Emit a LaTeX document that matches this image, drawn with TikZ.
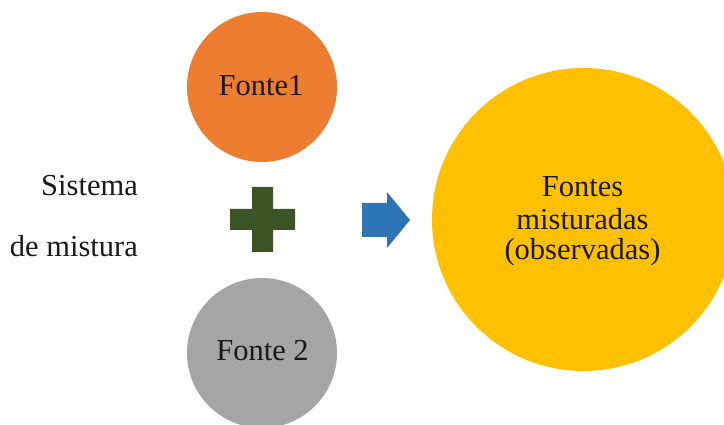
\documentclass[tikz,border=0pt]{standalone}
\usepackage{fontspec}
\setmainfont{Liberation Serif}
\definecolor{orangeC}{HTML}{ED7D31}
\definecolor{grayC}{HTML}{A5A5A5}
\definecolor{yellowC}{HTML}{FFC000}
\definecolor{blueC}{HTML}{2E75B6}
\definecolor{greenC}{HTML}{3B5624}
\tikzset{
  blob/.style={circle, draw=none, inner sep=0pt},
  lbl/.style={font=\fontsize{30.5}{32}\selectfont, text=black!90, inner sep=0pt, anchor=base},
}
\begin{document}
\begin{tikzpicture}[x=1pt, y=-1pt]
\useasboundingbox (0,0) rectangle (724,425);
\clip (0,0) rectangle (724,425);
% circles
\node[blob, fill=orangeC, minimum size=150pt] (f1) at (262,87) {};
\node[blob, fill=grayC, minimum size=150pt] (f2) at (262,353) {};
\node[blob, fill=yellowC, minimum size=303pt] (mix) at (583.5,219.5) {};
% labels
\node[lbl] (f1t) at (261,96) {Fonte1};
\node[lbl] (f2t) at (262.5,360) {Fonte 2};
\node[lbl] (m1) at (582.5,197) {Fontes};
\node[lbl] (m2) at (582.5,230) {misturadas};
\node[lbl] (m3) at (582.5,260) {(observadas)};
\node[lbl, anchor=base east] (s1) at (138,196) {Sistema};
\node[lbl, anchor=base east] (s2) at (138,257) {de mistura};
% plus sign
\fill[greenC] (252,187) -- (273,187) -- (273,209) -- (295,209) -- (295,230) -- (273,230)
  -- (273,252) -- (252,252) -- (252,230) -- (230,230) -- (230,209) -- (252,209) -- cycle;
% arrow
\fill[blueC] (362,203) -- (387,203) -- (387,192) -- (410,220) -- (387,248) -- (387,237) -- (362,237) -- cycle;
\end{tikzpicture}
\end{document}
